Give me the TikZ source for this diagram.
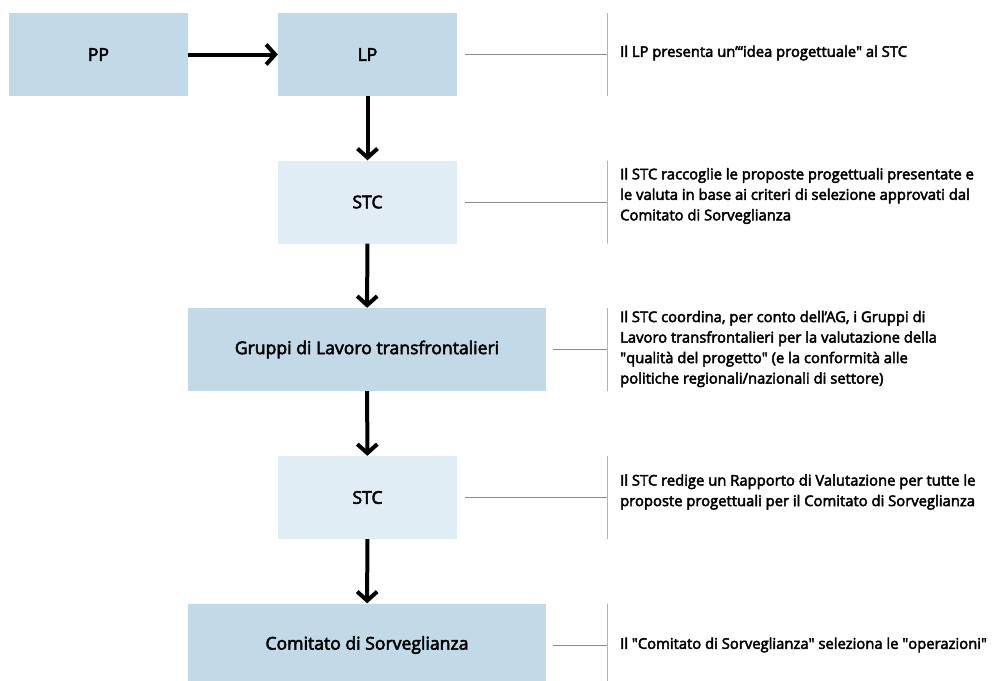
\documentclass[tikz,border=0pt]{standalone}
\usepackage{fontspec}
\setmainfont{Open Sans}[FakeBold=3]
\usetikzlibrary{positioning, arrows.meta}
\definecolor{stagedark}{HTML}{C2DAE7}
\definecolor{stagelight}{HTML}{E1EDF4}
\definecolor{leader}{HTML}{8A8A8A}
\newcommand{\qd}{\textquotedbl}

\begin{document}
\begin{tikzpicture}[
    x=1pt, y=-1pt,
    stage/.style={fill=stagedark, minimum width=179pt, minimum height=83pt,
                  inner sep=0pt, font=\fontsize{17.6}{20}\selectfont},
    pale/.style={stage, fill=stagelight},
    wide/.style={minimum width=358pt},
    flow/.style={-{Straight Barb[length=9pt, width=20pt]}, line width=4pt},
    bar/.style={draw=leader, line width=1pt, minimum width=0pt,
                minimum height=83pt, inner sep=0pt},
    link/.style={draw=leader, line width=1pt},
    note/.style={anchor=west, align=left, inner sep=0pt,
                 font=\fontsize{14.8}{20.5}\selectfont},
]
\clip (0,0) rectangle (993,680);

% process boxes
\node[stage] (pp) at (98.5,54.5) {PP};
\node[stage] (lp) at (367.5,54.5) {LP};
\node[pale] (stc1) at (367.5,202) {STC};
\node[stage, wide] (gdl) at (367,349.5) {Gruppi di Lavoro transfrontalieri};
\node[pale] (stc2) at (367.5,497.5) {STC};
\node[stage, wide] (cds) at (367,645) {Comitato di Sorveglianza};

\draw[flow] (pp) -- (lp);
\draw[flow] (lp) -- (stc1);
\draw[flow] (stc1) -- (gdl);
\draw[flow] (gdl) -- (stc2);
\draw[flow] (stc2) -- (cds);

% brackets on the right
\node[bar] (b1) at (607,54.5) {};
\node[bar] (b2) at (607,202) {};
\node[bar] (b3) at (607,349.5) {};
\node[bar] (b4) at (607,497.5) {};
\node[bar] (b5) at (607,645) {};

\draw[link] ([xshift=8pt]lp.east) -- (b1);
\draw[link] ([xshift=8pt]stc1.east) -- (b2);
\draw[link] ([xshift=7pt]gdl.east) -- (b3);
\draw[link] ([xshift=8pt]stc2.east) -- (b4);
\draw[link] ([xshift=7pt]cds.east) -- (b5);

\node[note] (n1) at (620,53) {Il LP presenta un'“idea progettuale\qd{} al STC};
\node[note] (n2) at (620,196) {Il STC raccoglie le proposte progettuali presentate e\\
  le valuta in base ai criteri di selezione approvati dal\\
  Comitato di Sorveglianza};
\node[note] (n3) at (620,349) {Il STC coordina, per conto dell’AG, i Gruppi di\\
  Lavoro transfrontalieri per la valutazione della\\
  \qd{}qualità del progetto\qd{} (e la conformità alle\\
  politiche regionali/nazionali di settore)};
\node[note] (n4) at (620,492) {Il STC redige un Rapporto di Valutazione per tutte le\\
  proposte progettuali per il Comitato di Sorveglianza};
\node[note] (n5) at (620,645) {Il \qd{}Comitato di Sorveglianza\qd{} seleziona le \qd{}operazioni\qd};

\end{tikzpicture}
\end{document}
